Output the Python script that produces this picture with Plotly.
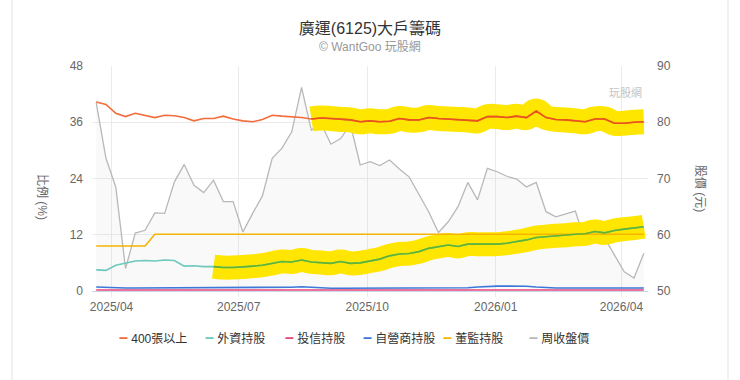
import pandas as pd
import plotly.graph_objects as go

# ---------------- data ----------------
dates = pd.date_range(start="2025-03-21", periods=57, freq="7D")

big_holders = [40.3, 39.8, 37.9, 37.2, 37.9, 37.5, 37.0, 37.5, 37.4, 37.0,
               36.3, 36.8, 36.8, 37.3, 36.7, 36.3, 36.1, 36.6, 37.5, 37.3,
               37.2, 37.0, 36.7, 36.9, 36.8, 36.6, 36.5, 36.1, 36.3, 36.1,
               36.2, 36.8, 36.5, 36.5, 37.0, 36.8, 36.7, 36.6, 36.5, 36.3,
               37.2, 37.2, 37.0, 37.3, 37.0, 38.4, 37.0, 36.6, 36.5, 36.3,
               36.1, 36.7, 36.7, 35.8, 35.8, 36.0, 36.1]

foreign = [4.5, 4.4, 5.5, 6.0, 6.4, 6.5, 6.4, 6.6, 6.5, 5.3,
           5.4, 5.2, 5.2, 5.0, 5.0, 5.1, 5.3, 5.5, 5.9, 6.3,
           6.2, 6.6, 6.2, 6.1, 5.9, 6.3, 5.9, 6.0, 6.4, 6.8,
           7.5, 7.9, 8.0, 8.4, 9.1, 9.5, 9.8, 9.5, 10.0, 10.0,
           10.0, 10.0, 10.2, 10.5, 10.9, 11.4, 11.6, 11.8, 11.9, 12.1,
           12.2, 12.7, 12.4, 12.9, 13.2, 13.4, 13.7]

trust = [0.2, 0.2, 0.2, 0.2, 0.2, 0.2, 0.2, 0.2, 0.2, 0.2,
         0.2, 0.2, 0.2, 0.2, 0.2, 0.2, 0.2, 0.2, 0.2, 0.2,
         0.2, 0.2, 0.2, 0.2, 0.2, 0.2, 0.2, 0.2, 0.2, 0.2,
         0.2, 0.2, 0.2, 0.2, 0.2, 0.2, 0.2, 0.2, 0.2, 0.2,
         0.2, 0.2, 0.2, 0.2, 0.2, 0.2, 0.2, 0.2, 0.2, 0.2,
         0.2, 0.2, 0.2, 0.2, 0.2, 0.2, 0.2]

dealer = [0.85, 0.75, 0.65, 0.65, 0.65, 0.65, 0.65, 0.65, 0.65, 0.65,
          0.65, 0.65, 0.65, 0.65, 0.65, 0.65, 0.65, 0.65, 0.65, 0.65,
          0.8, 0.9, 0.8, 0.6, 0.6, 0.6, 0.6, 0.6, 0.6, 0.6,
          0.6, 0.6, 0.6, 0.6, 0.6, 0.6, 0.6, 0.6, 0.7, 0.85,
          1.0, 1.05, 1.05, 1.05, 1.0, 0.85, 0.7, 0.65, 0.65, 0.65,
          0.65, 0.65, 0.65, 0.65, 0.65, 0.65, 0.65]

directors = [9.6, 9.6, 9.6, 9.6, 9.6, 9.6, 12.1, 12.1, 12.1, 12.1,
             12.1, 12.1, 12.1, 12.1, 12.1, 12.1, 12.1, 12.1, 12.1, 12.1,
             12.1, 12.1, 12.1, 12.1, 12.1, 12.1, 12.1, 12.1, 12.1, 12.1,
             12.1, 12.1, 12.1, 12.1, 12.1, 12.1, 12.1, 12.1, 12.1, 12.1,
             12.1, 12.1, 12.1, 12.1, 12.1, 12.1, 12.1, 12.1, 12.1, 12.1,
             12.1, 12.1, 12.1, 12.1, 12.1, 12.1, 12.1]

close_price = [83.5, 73.6, 68.5, 54.0, 60.3, 60.8, 63.9, 63.8, 69.4, 72.5,
               68.8, 67.5, 69.7, 65.9, 65.9, 60.5, 63.8, 66.9, 73.6, 75.4,
               78.3, 86.2, 78.6, 79.8, 76.1, 77.1, 79.6, 72.4, 73.0, 72.3,
               73.3, 71.7, 70.3, 67.2, 64.1, 60.4, 62.3, 65.0, 69.3, 66.2,
               71.8, 71.2, 70.4, 69.9, 68.5, 69.3, 64.1, 63.2, 63.7, 64.2,
               58.8, 59.7, 59.4, 56.4, 53.4, 52.3, 56.7]

series_names = ["400張以上", "外資持股", "投信持股", "自營商持股", "董監持股", "周收盤價"]
tick_dates = ["2025-04-01", "2025-07-01", "2025-10-01", "2026-01-01", "2026-04-01"]
tick_labels = ["2025/04", "2025/07", "2025/10", "2026/01", "2026/04"]

# highlighted stretches (start index of the marker highlight)
hl_big_start = 22
hl_foreign_start = 12

colors = {
    "big": "#f26c3c",
    "foreign": "#6cc9bd",
    "trust": "#e8457a",
    "dealer": "#3b78d8",
    "directors": "#f5b400",
    "price": "#b8b8b8",
}
YELLOW = "#ffe600"
FONT = "Liberation Sans, Arial, Noto Sans CJK TC, sans-serif"

fig = go.Figure()

# price on primary y (drawn underneath)
fig.add_trace(go.Scatter(
    x=dates, y=close_price, name=series_names[5], yaxis="y",
    mode="lines", line=dict(color=colors["price"], width=1.3),
    fill="tozeroy", fillcolor="rgba(150,150,150,0.06)",
    showlegend=False,
))

# yellow highlighter bands
fig.add_trace(go.Scatter(
    x=dates[hl_big_start:], y=big_holders[hl_big_start:], yaxis="y2",
    mode="lines", line=dict(color=YELLOW, width=25, shape="spline", smoothing=1.3),
    showlegend=False, hoverinfo="skip",
))
fig.add_trace(go.Scatter(
    x=dates[hl_foreign_start:], y=foreign[hl_foreign_start:], yaxis="y2",
    mode="lines", line=dict(color=YELLOW, width=24, shape="spline", smoothing=1.3),
    showlegend=False, hoverinfo="skip",
))

line_specs = [
    (big_holders, series_names[0], colors["big"]),
    (foreign, series_names[1], colors["foreign"]),
    (trust, series_names[2], colors["trust"]),
    (dealer, series_names[3], colors["dealer"]),
    (directors, series_names[4], colors["directors"]),
]
for vals, nm, col in line_specs:
    fig.add_trace(go.Scatter(
        x=dates, y=vals, name=nm, yaxis="y2", mode="lines",
        line=dict(color=col, width=1.6), showlegend=False,
    ))

# lines seen through the highlighter (blended colours)
fig.add_trace(go.Scatter(
    x=dates[hl_foreign_start:], y=foreign[hl_foreign_start:], yaxis="y2",
    mode="lines", line=dict(color="#62b42a", width=1.6),
    showlegend=False, hoverinfo="skip",
))
fig.add_trace(go.Scatter(
    x=dates[hl_big_start:], y=big_holders[hl_big_start:], yaxis="y2",
    mode="lines", line=dict(color="#e8551c", width=1.6),
    showlegend=False, hoverinfo="skip",
))

PL, PR, PT, PB = 92, 92, 66, 89
W, H = 740, 380
pw, ph = W - PL - PR, H - PT - PB


def px_x(x):
    return (x - PL) / pw


def px_y(y):
    return (H - PB - y) / ph


# legend entries: coloured dash right before the text, one small legend per entry
legend_cols = [colors["big"], colors["foreign"], colors["trust"],
               colors["dealer"], colors["directors"], colors["price"]]
legend_dash_px = [119, 205, 285, 363, 443, 529]
legend_layouts = {}
for i, (nm, col) in enumerate(zip(series_names, legend_cols)):
    lname = "legend" if i == 0 else f"legend{i + 1}"
    fig.add_trace(go.Scatter(
        x=[None], y=[None], mode="markers", yaxis="y2",
        name=(f"<span style='color:{col};font-size:16px;font-weight:bold'>–</span>"
              f" {nm}"),
        marker=dict(symbol="line-ew", size=9,
                    line=dict(color="rgba(0,0,0,0)", width=0),
                    color="rgba(0,0,0,0)"),
        showlegend=True, legend=lname,
    ))
    legend_layouts[lname] = dict(
        orientation="h", x=px_x(legend_dash_px[i] - 40), xanchor="left",
        y=px_y(338), yanchor="middle", itemwidth=30,
        font=dict(size=12, color="#333333", family=FONT),
        bgcolor="rgba(0,0,0,0)",
    )

fig.update_layout(
    width=W, height=H,
    margin=dict(l=PL, r=PR, t=PT, b=PB),
    paper_bgcolor="white", plot_bgcolor="white",
    font=dict(family=FONT, size=12, color="#666666"),
    title=dict(text="廣運(6125)大戶籌碼", x=0.5, xanchor="center",
               y=1 - 28 / H, yanchor="middle",
               font=dict(size=16, color="#333333", family=FONT)),
    xaxis=dict(
        type="date", range=["2025-03-18", "2026-04-20"],
        tickvals=tick_dates, ticktext=tick_labels,
        showgrid=True, gridcolor="#ebebeb", gridwidth=1,
        showline=True, linecolor="#ccd6eb", zeroline=False,
        ticks="outside", ticklen=5, tickcolor="#ebebeb",
        tickfont=dict(size=12, color="#666666"),
    ),
    yaxis=dict(
        side="right", range=[50, 90], tickvals=[50, 60, 70, 80, 90],
        showgrid=False, zeroline=False, ticks="",
        ticklabelstandoff=8,
        tickfont=dict(size=12, color="#666666"),
    ),
    yaxis2=dict(
        side="left", overlaying="y", range=[0, 48], tickvals=[0, 12, 24, 36, 48],
        showgrid=True, gridcolor="#ebebeb", zeroline=False, ticks="",
        ticklabelstandoff=8,
        tickfont=dict(size=12, color="#666666"),
    ),
    showlegend=True,
    annotations=[
        dict(text="© WantGoo 玩股網", xref="paper", yref="paper",
             x=0.5, y=px_y(47), xanchor="center", yanchor="middle",
             showarrow=False, font=dict(size=12, color="#999999", family=FONT)),
        dict(text="比例 (%)", xref="paper", yref="paper",
             x=px_x(42), y=px_y(197), textangle=90,
             xanchor="center", yanchor="middle", showarrow=False,
             font=dict(size=12, color="#666666", family=FONT)),
        dict(text="股價 (元)", xref="paper", yref="paper",
             x=px_x(700), y=px_y(188), textangle=90,
             xanchor="center", yanchor="middle", showarrow=False,
             font=dict(size=12, color="#666666", family=FONT)),
        dict(text="玩股網", xref="paper", yref="paper",
             x=px_x(625), y=px_y(92), xanchor="center", yanchor="middle",
             showarrow=False, font=dict(size=11, color="#c4c4c4", family=FONT)),
    ],
    shapes=[
        dict(type="line", xref="paper", yref="paper",
             x0=px_x(12), x1=px_x(12), y0=px_y(0), y1=px_y(380),
             line=dict(color="#e3e3e3", width=1)),
        dict(type="line", xref="paper", yref="paper",
             x0=px_x(728), x1=px_x(728), y0=px_y(0), y1=px_y(380),
             line=dict(color="#e3e3e3", width=1)),
    ],
    **legend_layouts,
)

fig.write_html("out.html")
